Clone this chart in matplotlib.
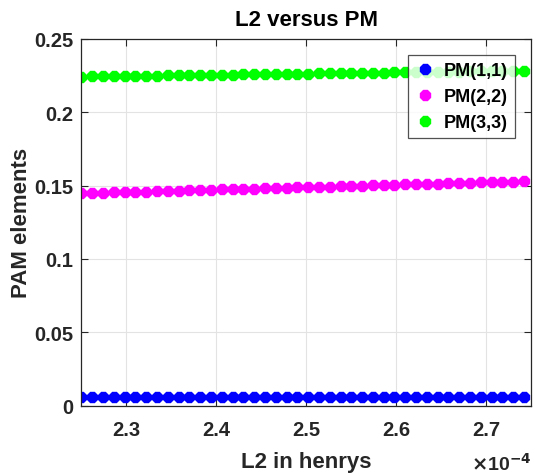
import matplotlib
matplotlib.use('Agg')
import matplotlib.pyplot as plt
from matplotlib.ticker import FuncFormatter

plt.rcParams['font.family'] = ['Liberation Sans', 'DejaVu Sans']
plt.rcParams['font.weight'] = 'bold'

# --- data (L2 in units of 1e-4 H) ---
l2_e4 = [2.250, 2.262, 2.274, 2.286, 2.298, 2.310, 2.322, 2.334, 2.346, 2.358,
         2.370, 2.382, 2.394, 2.406, 2.418, 2.430, 2.442, 2.454, 2.466, 2.478,
         2.490, 2.502, 2.514, 2.526, 2.538, 2.550, 2.562, 2.574, 2.586, 2.598,
         2.610, 2.622, 2.634, 2.646, 2.658, 2.670, 2.682, 2.694, 2.706, 2.718,
         2.730, 2.742]
pm11 = [0.0061] * 42
pm22 = [0.1447, 0.1449, 0.1451, 0.1453, 0.1455, 0.1457, 0.1459, 0.1461, 0.1463, 0.1465,
        0.1467, 0.1469, 0.1471, 0.1473, 0.1475, 0.1477, 0.1479, 0.1481, 0.1483, 0.1485,
        0.1487, 0.1489, 0.1491, 0.1493, 0.1495, 0.1497, 0.1499, 0.1501, 0.1503, 0.1505,
        0.1507, 0.1509, 0.1511, 0.1513, 0.1515, 0.1517, 0.1519, 0.1521, 0.1523, 0.1525,
        0.1527, 0.1529]
pm33 = [0.2241, 0.2242, 0.2243, 0.2244, 0.2245, 0.2246, 0.2247, 0.2248, 0.2249, 0.2250,
        0.2251, 0.2252, 0.2253, 0.2254, 0.2255, 0.2256, 0.2257, 0.2258, 0.2259, 0.2260,
        0.2261, 0.2262, 0.2263, 0.2264, 0.2265, 0.2266, 0.2267, 0.2268, 0.2269, 0.2270,
        0.2271, 0.2272, 0.2273, 0.2274, 0.2275, 0.2276, 0.2277, 0.2278, 0.2279, 0.2280,
        0.2281, 0.2282]
series_names = ['PM(1,1)', 'PM(2,2)', 'PM(3,3)']
series_colors = ['#0000ff', '#ff00ff', '#00ff00']
x_ticks = [2.3e-4, 2.4e-4, 2.5e-4, 2.6e-4, 2.7e-4]
y_ticks = [0, 0.05, 0.1, 0.15, 0.2, 0.25]

l2 = [v * 1e-4 for v in l2_e4]

fig = plt.figure(figsize=(5.36, 4.77), dpi=100)
ax = fig.add_axes([0.152, 0.147, 0.839, 0.770])

for ys, name, col in zip([pm11, pm22, pm33], series_names, series_colors):
    ax.plot(l2, ys, linestyle='none', marker='8', markersize=7.5,
            color=col, markeredgecolor=col, label=name)

ax.set_xlim(2.25e-4, 2.75e-4)
ax.set_ylim(0, 0.25)
ax.set_xticks(x_ticks)
ax.set_yticks(y_ticks)
ax.xaxis.set_major_formatter(FuncFormatter(lambda v, p: '%g' % round(v * 1e4, 3)))
ax.yaxis.set_major_formatter(FuncFormatter(lambda v, p: '%g' % round(v, 3)))

ax.grid(True, color='#e3e3e3', linewidth=0.8)
ax.set_axisbelow(True)
ax.tick_params(direction='in', top=True, right=True, length=5, width=0.8,
               colors='#262626', labelsize=14.5)
ax.tick_params(axis='y', pad=6)
ax.tick_params(axis='x', pad=10)
for s in ax.spines.values():
    s.set_color('#262626')
    s.set_linewidth(0.9)

ax.set_title('L2 versus PM', fontsize=16, fontweight='bold', pad=10)
ax.set_xlabel('L2 in henrys', fontsize=16, fontweight='bold', color='#262626', labelpad=9)
ax.set_ylabel('PAM elements', fontsize=16, fontweight='bold', color='#262626', labelpad=1)
ax.text(1.0, -0.155, r'$\times$10$^{-4}$', transform=ax.transAxes, ha='right', va='center',
        fontsize=14, color='#262626')

leg = ax.legend(loc='upper right', fontsize=13, frameon=True, fancybox=False,
                edgecolor='#262626', handlelength=1.0, handletextpad=0.55,
                borderaxespad=0.9, labelspacing=0.5, borderpad=0.4)
leg.get_frame().set_linewidth(0.9)

fig.savefig('out.png', dpi=100)
